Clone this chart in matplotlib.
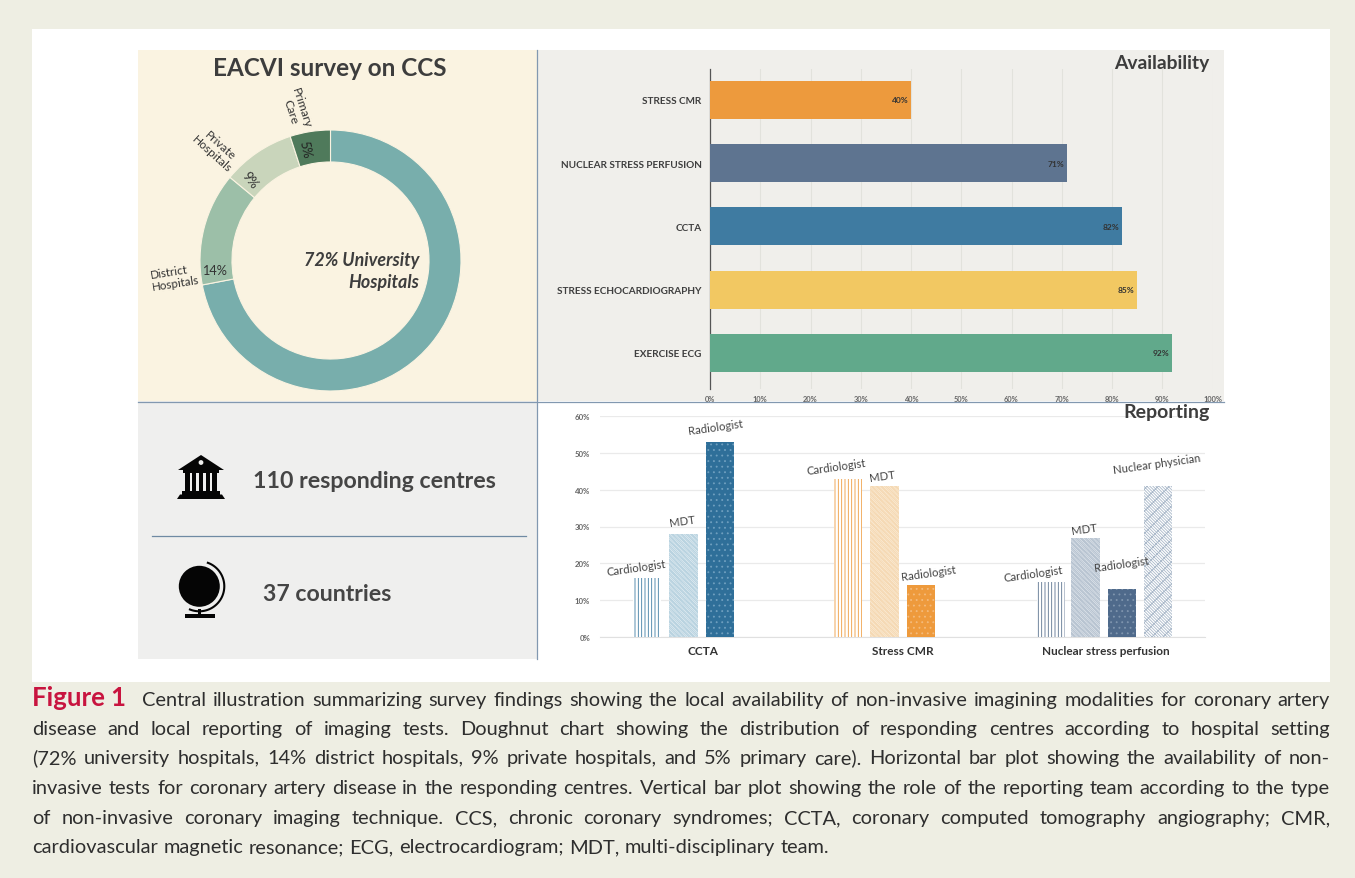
import numpy as np
import matplotlib
matplotlib.use("Agg")
import matplotlib.pyplot as plt
from matplotlib.patches import Rectangle, Polygon, Circle

plt.rcParams['font.family'] = ['Lato', 'DejaVu Sans']
plt.rcParams['hatch.linewidth'] = 0.6

# ---------- data ----------
setting_labels = ["University Hospitals", "District Hospitals", "Private Hospitals", "Primary Care"]
setting_values = [72, 14, 9, 5]
setting_colors = ["#78aeac", "#9cbfa8", "#c9d5bb", "#4f7a5b"]

avail_labels = ["STRESS CMR", "NUCLEAR STRESS PERFUSION", "CCTA", "STRESS ECHOCARDIOGRAPHY", "EXERCISE ECG"]
avail_values = [40, 71, 82, 85, 92]
avail_colors = ["#ed9a3d", "#5e7490", "#3f7ba1", "#f2c862", "#61a98b"]

rep_groups = ["CCTA", "Stress CMR", "Nuclear stress perfusion"]
rep_roles = ["Cardiologist", "MDT", "Radiologist",
             "Cardiologist", "MDT", "Radiologist",
             "Cardiologist", "MDT", "Radiologist", "Nuclear physician"]
rep_values = [16, 28, 53, 43, 41, 14, 15, 27, 13, 41]
rep_pos = [1.29, 2.29, 3.29, 6.79, 7.80, 8.80, 12.36, 13.30, 14.30, 15.29]
rep_group_pos = [2.82, 8.30, 13.87]

caption_lines = [
    "Central illustration summarizing survey findings showing the local availability of non-invasive imagining modalities for coronary artery",
    "disease and local reporting of imaging tests. Doughnut chart showing the distribution of responding centres according to hospital setting",
    "(72% university hospitals, 14% district hospitals, 9% private hospitals, and 5% primary care). Horizontal bar plot showing the availability of non-",
    "invasive tests for coronary artery disease in the responding centres. Vertical bar plot showing the role of the reporting team according to the type",
    "of non-invasive coronary imaging technique. CCS, chronic coronary syndromes; CCTA, coronary computed tomography angiography; CMR,",
    "cardiovascular magnetic resonance; ECG, electrocardiogram; MDT, multi-disciplinary team.",
]

# ---------- style ----------
W, H = 1355, 879
rep_fg = ["#3e7ca3", "#b9d3e0", "#6f9fbf", "#ee9a3c", "#f5d9b4", "#f4bb7c",
          "#5b728f", "#b8c4d1", "#7f95ae", "#a9b8c9"]
rep_face = ["#ffffff", "#e6eff4", "#2f6f99", "#ffffff", "#fbeeda", "#ee9a3c",
            "#ffffff", "#e4e9ef", "#4f6a8b", "#ffffff"]
cross = "/////////xxxxxxx"
rep_hatch = ["|||||", cross, "...", "|||||", cross, "...",
             "|||||", cross, "...", "\\\\\\\\\\\\\\\\xxx"]
rep_off = [(-11, 11), (-1, 13), (-4, 15), (-12, 12), (-2, 10), (7, 13),
           (-18, 8), (-1, 9), (0, 25), (-1, 23)]

fig = plt.figure(figsize=(W / 100, H / 100), dpi=100, facecolor="#eeeee3")


def px_axes(l, t, r, b, z=1):
    ax = fig.add_axes([l / W, 1 - b / H, (r - l) / W, (b - t) / H], zorder=z)
    ax.patch.set_alpha(0)
    return ax


# background layer
bg = px_axes(0, 0, W, H, 0)
bg.set_xlim(0, W)
bg.set_ylim(H, 0)
bg.axis("off")
bg.add_patch(Rectangle((32, 30), 1298, 653, fc="white", ec="none"))
bg.add_patch(Rectangle((138, 51), 399, 351, fc="#faf3e1", ec="none"))
bg.add_patch(Rectangle((537, 51), 687, 351, fc="#f0efeb", ec="none"))
bg.add_patch(Rectangle((138, 402), 399, 258, fc="#efefee", ec="none"))
bg.plot([537, 537], [51, 660], color="#8298b0", lw=0.9)
bg.plot([138, 1224], [402.5, 402.5], color="#8298b0", lw=0.9)
bg.plot([152, 526], [536.5, 536.5], color="#6f8aa3", lw=0.9)

# building icon
ink = "#050505"
bg.add_patch(Polygon([(201, 456), (224, 471), (178, 471)], fc=ink, ec="none"))
bg.add_patch(Circle((201, 463.5), 2.4, fc="#efefee", ec="none"))
bg.add_patch(Rectangle((183, 470.5), 36, 3, fc=ink, ec="none"))
for cx in (185, 191.5, 198.5, 205.5, 212):
    bg.add_patch(Rectangle((cx, 473), 4.6, 19, fc=ink, ec="none"))
bg.add_patch(Rectangle((182, 491.5), 38, 4, fc=ink, ec="none"))
bg.add_patch(Polygon([(180, 495.5), (222, 495.5), (225, 500), (177, 500)], fc=ink, ec="none"))

# globe icon
bg.add_patch(Circle((199.3, 587.3), 20.5, fc=ink, ec="none"))
ang = np.radians(np.linspace(20, 202, 60))
bg.plot(199.3 + 25 * np.sin(ang), 587.3 - 25 * np.cos(ang), color=ink, lw=1.5)
bg.add_patch(Rectangle((197.5, 610), 3.5, 6, fc=ink, ec="none"))
bg.add_patch(Rectangle((185, 615), 30, 3.5, fc=ink, ec="none"))

# doughnut
pie_ax = px_axes(200, 131, 461, 392, 2)
pie_ax.pie(setting_values, colors=setting_colors, startangle=90, counterclock=False, radius=1,
           wedgeprops=dict(width=0.245, edgecolor="#faf3e1", linewidth=0.8))
pie_ax.set_xlim(-1, 1)
pie_ax.set_ylim(-1, 1)

# availability bars
av = px_axes(710, 70, 1212.5, 390, 2)
y = np.arange(len(avail_labels))
av.barh(y, avail_values, height=0.6, color=avail_colors, zorder=3)
av.set_xlim(0, 100)
av.set_ylim(4.57, -0.49)
av.set_xticks(np.arange(0, 101, 10))
av.set_xticklabels([f"{v}%" for v in range(0, 101, 10)], fontsize=5.4, fontweight="bold", color="#666666")
av.set_yticks(y)
av.set_yticklabels(avail_labels, fontsize=7.2, fontweight="bold", color="#3f3f3f")
av.tick_params(axis="both", length=0, pad=4)
av.tick_params(axis="y", pad=6)
av.xaxis.grid(True, color="#e2e2dc", lw=0.8, zorder=0)
for s in ("top", "right", "bottom"):
    av.spines[s].set_visible(False)
av.spines["left"].set_color("#555555")
av.spines["left"].set_linewidth(0.9)
for yy, v in zip(y, avail_values):
    av.annotate(f"{v}%", (v, yy), xytext=(-2, 0), textcoords="offset points", ha="right", va="center",
                fontsize=6, fontweight="bold", color="#333333", zorder=4)

# reporting bars
rp = px_axes(600, 417, 1205, 638, 2)
rp.bar(rep_pos, rep_values, width=0.78, color=rep_face, edgecolor=rep_fg, hatch=rep_hatch,
       linewidth=0, zorder=3)
rp.set_xlim(0, 605 / 36.5)
rp.set_ylim(0, 60)
rp.set_yticks(np.arange(0, 61, 10))
rp.set_yticklabels([f"{v}%" for v in range(0, 61, 10)], fontsize=5.6, color="#666666", fontweight="bold")
rp.set_xticks(rep_group_pos)
rp.set_xticklabels(rep_groups, fontsize=8.5, fontweight="bold", color="#333333")
rp.tick_params(axis="both", length=0)
rp.tick_params(axis="y", pad=7)
rp.tick_params(axis="x", pad=6)
rp.yaxis.grid(True, color="#eaeaea", lw=0.9, zorder=0)
for s in ("top", "right", "left"):
    rp.spines[s].set_visible(False)
rp.spines["bottom"].set_color("#e0e0e0")
for x0, v, role, off in zip(rep_pos, rep_values, rep_roles, rep_off):
    rp.annotate(role, (x0, v), xytext=(off[0] * 0.72, off[1] * 0.72), textcoords="offset points",
                ha="center", va="center", rotation=8, fontsize=8.2, color="#444444", zorder=5,
                annotation_clip=False)

# text overlay
tx = px_axes(0, 0, W, H, 10)
tx.set_xlim(0, W)
tx.set_ylim(H, 0)
tx.axis("off")
dark = "#3d3d3d"


def t(x, y_, s, size, **kw):
    kw.setdefault("ha", "center")
    kw.setdefault("va", "center")
    kw.setdefault("color", dark)
    return tx.text(x, y_, s, fontsize=size, **kw)


t(330, 68.5, "EACVI survey on CCS", 17.5, fontweight="bold")
t(1209, 64, "Availability", 13.9, fontweight="bold", ha="right")
t(1210, 412.5, "Reporting", 14, fontweight="bold", ha="right")
t(419, 271.5, f"{setting_values[0]}% University\nHospitals", 12.9, fontweight="bold", style="italic",
  ha="right", linespacing=1.35)
t(296, 110, "Primary\nCare", 8.8, rotation=-72, color="#333333", linespacing=1.05, multialignment="center")
t(216, 150, "Private\nHospitals", 8.6, rotation=-42, color="#333333", linespacing=1.05, multialignment="center")
t(175, 278, "District\nHospitals", 8.4, rotation=9, color="#333333", linespacing=1.2, multialignment="left")
t(214, 271, f"{setting_values[1]}%", 9.2, color="#333333")
t(250, 180, f"{setting_values[2]}%", 9.2, rotation=-52, color="#333333")
t(305, 150, f"{setting_values[3]}%", 9.2, rotation=-78, color="#222222")
t(253, 481.5, "110 responding centres", 16.7, fontweight="bold", ha="left", color="#454545")
t(263, 594.5, "37 countries", 16.7, fontweight="bold", ha="left", color="#454545")

# caption, justified word by word
fig.canvas.draw()
rend = fig.canvas.get_renderer()
cap_size = 14.4
cap_y = [700, 729, 758, 788, 818, 847]
cap_l, cap_r = 32, 1330


def width(obj):
    return obj.get_window_extent(rend).width


red = t(cap_l, cap_y[0], "Figure 1", 18.5, fontweight="bold", color="#c8143f", ha="left", va="baseline")
for i, (line, yy) in enumerate(zip(caption_lines, cap_y)):
    base = yy + 6
    x0 = cap_l
    if i == 0:
        red.set_y(base)
        x0 = 142
    words = line.split(" ")
    arts = [t(x0, base, w_, cap_size, ha="left", va="baseline", color="#2e2e2e") for w_ in words]
    ws = [width(a) for a in arts]
    if i == len(caption_lines) - 1:
        gap = 5.5
    else:
        gap = (cap_r - x0 - sum(ws)) / (len(words) - 1)
    x = x0
    for a, w_ in zip(arts, ws):
        a.set_x(x)
        x += w_ + gap

fig.savefig("out.png", dpi=100, facecolor=fig.get_facecolor())
